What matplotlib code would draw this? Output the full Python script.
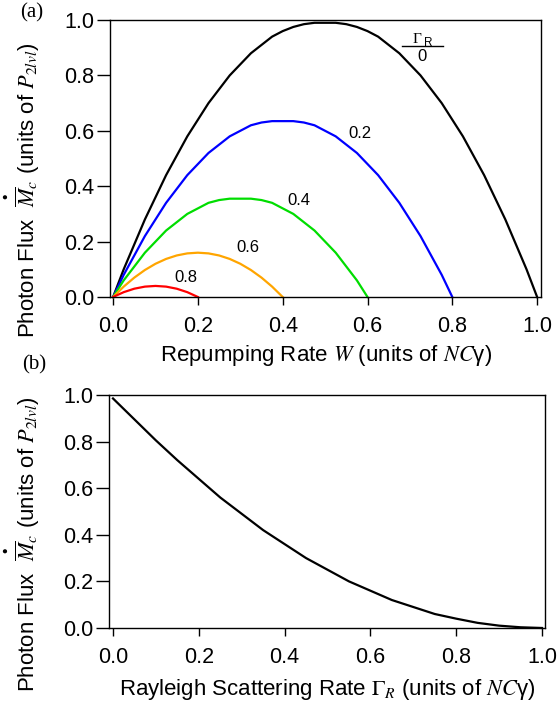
import matplotlib
matplotlib.use('Agg')
import matplotlib.pyplot as plt

plt.rcParams['font.family'] = ['Liberation Sans', 'DejaVu Sans']
plt.rcParams['mathtext.fontset'] = 'stix'

# (a) photon flux vs repumping rate W, one curve per Rayleigh rate
w = [0.0, 0.025, 0.05, 0.075, 0.1, 0.125, 0.15, 0.175, 0.2, 0.225, 0.25,
     0.275, 0.3, 0.325, 0.35, 0.375, 0.4, 0.425, 0.45, 0.475, 0.5,
     0.525, 0.55, 0.575, 0.6, 0.625, 0.65, 0.675, 0.7, 0.725, 0.75,
     0.775, 0.8, 0.825, 0.85, 0.875, 0.9, 0.925, 0.95, 0.975, 1.0]
flux_g00 = [0.0, 0.10, 0.19, 0.28, 0.36, 0.44, 0.51, 0.58, 0.64, 0.70, 0.75,
            0.80, 0.84, 0.88, 0.91, 0.94, 0.96, 0.975, 0.985, 0.99, 0.99,
            0.99, 0.985, 0.975, 0.96, 0.94, 0.91, 0.88, 0.84, 0.80, 0.75,
            0.70, 0.64, 0.58, 0.51, 0.44, 0.36, 0.28, 0.19, 0.10, 0.0]
flux_g02 = [0.0, 0.08, 0.15, 0.22, 0.28, 0.34, 0.39, 0.44, 0.48, 0.52, 0.55,
            0.58, 0.60, 0.62, 0.63, 0.635, 0.635, 0.635, 0.63, 0.62, 0.60,
            0.58, 0.55, 0.52, 0.48, 0.44, 0.39, 0.34, 0.28, 0.22, 0.15,
            0.08, 0.0]
flux_g04 = [0.0, 0.06, 0.11, 0.16, 0.20, 0.24, 0.27, 0.30, 0.32, 0.34, 0.35,
            0.355, 0.355, 0.355, 0.35, 0.34, 0.32, 0.30, 0.27, 0.24, 0.20,
            0.16, 0.11, 0.06, 0.0]
flux_g06 = [0.0, 0.0375, 0.07, 0.0975, 0.12, 0.1375, 0.15, 0.1575, 0.16,
            0.1575, 0.15, 0.1375, 0.12, 0.0975, 0.07, 0.0375, 0.0]
flux_g08 = [0.0, 0.0175, 0.03, 0.0375, 0.04, 0.0375, 0.03, 0.0175, 0.0]

curve_labels = ['0', '0.2', '0.4', '0.6', '0.8']
curve_colors = ['black', '#0000ff', '#00dd00', '#ffa500', '#ff0000']

# (b) photon flux vs Rayleigh scattering rate
gamma_r = [0.0, 0.05, 0.1, 0.15, 0.2, 0.25, 0.3, 0.35, 0.4, 0.45, 0.5,
           0.55, 0.6, 0.65, 0.7, 0.75, 0.8, 0.85, 0.9, 0.95, 1.0]
flux_b = [0.985, 0.895, 0.805, 0.72, 0.64, 0.56, 0.49, 0.42, 0.36, 0.30, 0.25,
          0.20, 0.16, 0.12, 0.09, 0.06, 0.04, 0.022, 0.01, 0.003, 0.0]

ticks = [0.0, 0.2, 0.4, 0.6, 0.8, 1.0]
tick_labels = ['0.0', '0.2', '0.4', '0.6', '0.8', '1.0']
ylab = r'Photon Flux  $\overset{\bullet}{\overline{M}}_c$ (units of $P_{2lvl}$)'

fig = plt.figure(figsize=(5.59, 7.15), dpi=100)
ax1 = fig.add_axes([0.197, 0.5846, 0.771, 0.3874])
ax2 = fig.add_axes([0.195, 0.1217, 0.780, 0.3259])


def style(ax, xlim):
    ax.set_xlim(*xlim)
    ax.set_ylim(0, 1.0)
    ax.set_xticks(ticks, tick_labels)
    ax.set_yticks(ticks, tick_labels)
    ax.tick_params(axis='both', direction='out', labelsize=15.5, width=1.0)
    ax.tick_params(axis='x', length=6, pad=8)
    ax.tick_params(axis='y', length=9.5, pad=2)
    for s in ax.spines.values():
        s.set_linewidth(1.0)


# top panel
n_pts = [41, 33, 25, 17, 9]
f_sets = [flux_g00, flux_g02, flux_g04, flux_g06, flux_g08]
for n, f, c in zip(n_pts, f_sets, curve_colors):
    ax1.plot(w[:n], f, color=c, lw=1.6, clip_on=False)
style(ax1, (-0.007, 1.0094))
ax1.set_xlabel(r'Repumping Rate $W$ (units of $NC$γ)', fontsize=16, labelpad=4)
ax1.set_ylabel(ylab, fontsize=16)
ax1.yaxis.set_label_coords(-0.158, 0.385)

# Gamma_R / 0 key and curve labels
ax1.text(0.717, 0.931, 'Γ', family='Liberation Serif', ha='center', va='center', fontsize=11)
ax1.text(0.743, 0.918, 'R', ha='center', va='center', fontsize=8.5)
ax1.plot([0.682, 0.778], [0.906, 0.906], color='black', lw=1.0)
ax1.text(0.729, 0.868, curve_labels[0], ha='center', va='center', fontsize=12)
lab_pos = [(0.583, 0.592), (0.439, 0.350), (0.318, 0.18), (0.172, 0.072)]
for (x, y), t in zip(lab_pos, curve_labels[1:]):
    ax1.text(x, y, t, ha='center', va='center', fontsize=12)

# bottom panel
ax2.plot(gamma_r, flux_b, color='black', lw=1.6, clip_on=False)
style(ax2, (-0.0093, 1.007))
ax2.set_xlabel(r'Rayleigh Scattering Rate $\Gamma_R$ (units of $NC$γ)', fontsize=16, labelpad=6)
ax2.set_ylabel(ylab, fontsize=16)
ax2.yaxis.set_label_coords(-0.154, 0.36)

fig.text(0.036, 0.996, '(a)', family='Liberation Serif', fontsize=15, va='top', ha='left')
fig.text(0.039, 0.503, '(b)', family='Liberation Serif', fontsize=15, va='top', ha='left')

fig.savefig('out.png', dpi=100)
